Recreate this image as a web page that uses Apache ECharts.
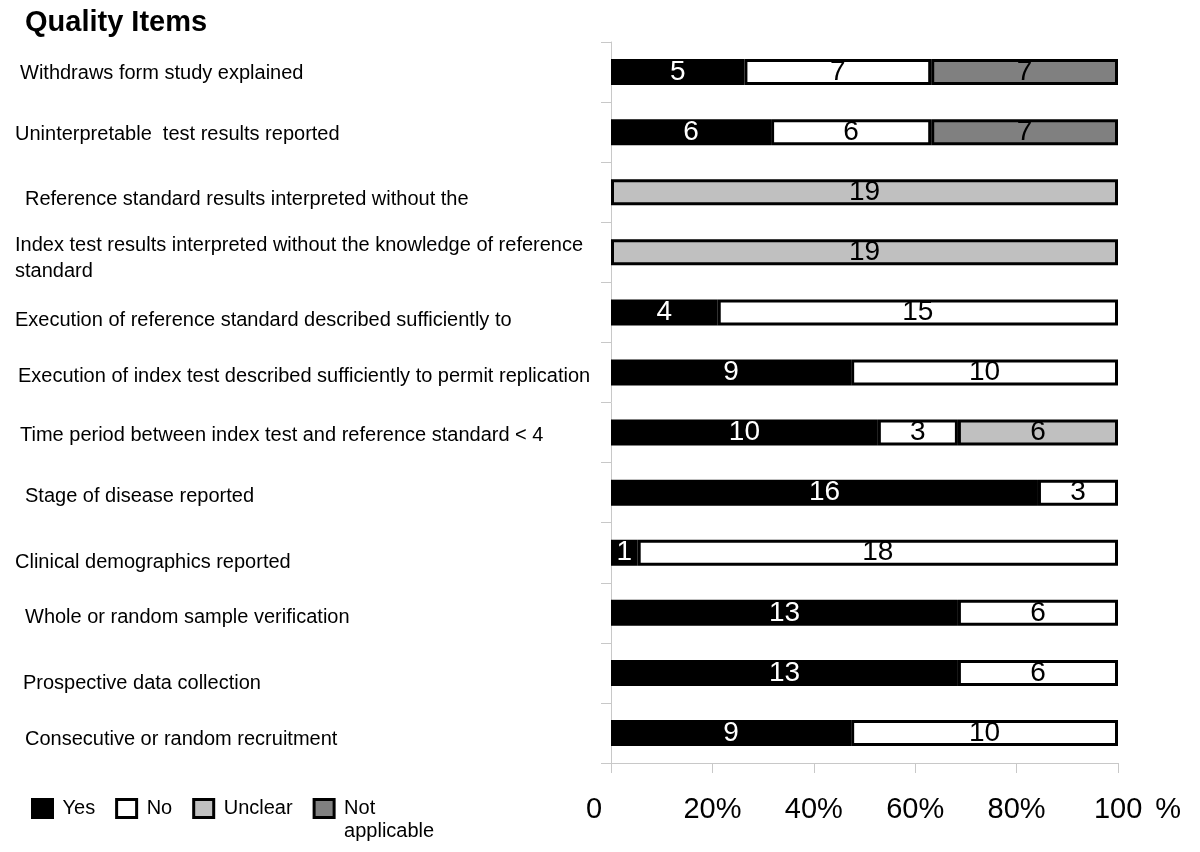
<!DOCTYPE html>
<html>
<head>
<meta charset="utf-8">
<script src="https://cdn.jsdelivr.net/npm/echarts@6/dist/echarts.min.js"></script>
<style>html,body{margin:0;padding:0;background:#fff;}#c{width:1200px;height:852px;}</style>
</head>
<body>
<div id="c"></div>
<script>
var categories = [
  'Withdraws form study explained',
  'Uninterpretable  test results reported',
  'Reference standard results interpreted without the',
  'Index test results interpreted without the knowledge of reference\nstandard',
  'Execution of reference standard described sufficiently to',
  'Execution of index test described sufficiently to permit replication',
  'Time period between index test and reference standard < 4',
  'Stage of disease reported',
  'Clinical demographics reported',
  'Whole or random sample verification',
  'Prospective data collection',
  'Consecutive or random recruitment'
];
var yesCounts     = [5, 6, 0, 0, 4, 9, 10, 16, 1, 13, 13, 9];
var noCounts      = [7, 6, 0, 0, 15, 10, 3, 3, 18, 6, 6, 10];
var unclearCounts = [0, 0, 19, 19, 0, 0, 6, 0, 0, 0, 0, 0];
var naCounts      = [7, 7, 0, 0, 0, 0, 0, 0, 0, 0, 0, 0];
var xTickLabels = ['0', '20%', '40%', '60%', '80%', '100'];
var xUnit = '%';

var FONT = 'Liberation Sans, Arial, sans-serif';
var totals = yesCounts.map(function (v, i) { return v + noCounts[i] + unclearCounts[i] + naCounts[i]; });
function pct(arr) { return arr.map(function (v, i) { return v ? v / totals[i] * 100 : '-'; }); }

// per-label indentation / vertical nudges (layout only)
var dxs = [5, 0, 10, 0, 0, 3, 5, 10, 0, 10, 8, 10];
var dys = [1, 2, 7, 0, 8, 4, 3, 4, 10, 5, 11, 7];
var LF = 20;
var rich = {};
for (var i = 0; i < categories.length; i++) {
  rich['s' + i] = { fontSize: LF, fontFamily: FONT, color: '#000', padding: [dys[i] * 2, 0, 0, dxs[i]] };
}
rich.m0 = { fontSize: LF, fontFamily: FONT, color: '#000', lineHeight: 25, padding: [12, 0, 0, 0] };
rich.m1 = { fontSize: LF, fontFamily: FONT, color: '#000', lineHeight: 25, padding: [14, 0, 0, 0] };
rich.z = { fontSize: 29, fontFamily: FONT, color: '#000', padding: [0, 34, 0, 0] };
rich.t = { fontSize: 29, fontFamily: FONT, color: '#000' };
rich.h = { fontSize: 29, fontFamily: FONT, color: '#000', padding: [0, 0, 0, 39] };
rich.pc = { fontSize: 29, fontFamily: FONT, color: '#000', padding: [0, 0, 0, 13] };

var legRich = {
  e: { fontSize: 20, fontFamily: FONT, lineHeight: 23, height: 23 },
  a: { fontSize: 20, fontFamily: FONT, color: '#000', lineHeight: 23 }
};

function mkSeries(name, counts, color, labelColor) {
  return {
    name: name,
    type: 'bar',
    stack: 'all',
    barWidth: 26,
    data: pct(counts),
    itemStyle: { color: color, borderColor: '#000', borderWidth: 3 },
    label: {
      show: true,
      position: 'inside',
      fontSize: 28,
      fontFamily: FONT,
      color: labelColor,
      formatter: function (p) { var c = counts[p.dataIndex]; return c ? String(c) : ''; }
    },
    emphasis: { disabled: true }
  };
}

var chart = echarts.init(document.getElementById('c'), null, { renderer: 'canvas' });
chart.setOption({
  animation: false,
  backgroundColor: '#fff',
  title: {
    text: 'Quality Items', left: 20, top: 3,
    textStyle: { fontSize: 29, fontWeight: 'bold', fontFamily: FONT, color: '#000' }
  },
  legend: {
    left: 31, top: 774, padding: 0,
    itemWidth: 20, itemHeight: 18, itemGap: 20,
    icon: 'rect',
    selectedMode: false,
    itemStyle: { borderWidth: 3, borderColor: '#000' },
    textStyle: { fontSize: 20, fontFamily: FONT, color: '#000', padding: [0, 0, 0, 5], rich: legRich },
    formatter: function (n) { return n === 'Not applicable' ? '{e|}\n{a|Not}\n{a|applicable}' : n; },
    data: ['Yes', 'No', 'Unclear', 'Not applicable']
  },
  grid: { left: 611, right: 82, top: 42, bottom: 89 },
  xAxis: {
    type: 'value', min: 0, max: 100, interval: 20,
    axisLine: { show: true, lineStyle: { color: '#c8c8c8', width: 1 } },
    axisTick: { show: true, length: 10, lineStyle: { color: '#c8c8c8' } },
    splitLine: { show: false },
    axisLabel: {
      margin: 32,
      formatter: function (v) {
        var idx = Math.round(v / 20);
        if (idx === 0) return '{z|' + xTickLabels[0] + '}';
        if (idx === 5) return '{h|' + xTickLabels[5] + '}{pc|' + xUnit + '}';
        return '{t|' + xTickLabels[idx] + '}';
      },
      rich: rich
    }
  },
  yAxis: {
    type: 'category', inverse: true,
    data: categories,
    axisLine: { show: true, lineStyle: { color: '#c8c8c8', width: 1 } },
    axisTick: { show: true, length: 10, lineStyle: { color: '#c8c8c8' } },
    axisLabel: {
      align: 'left', margin: 596,
      formatter: function (v, i) {
        if (v.indexOf('\n') >= 0) {
          var parts = v.split('\n');
          return '{m0|' + parts[0] + '}\n{m1|' + parts[1] + '}';
        }
        return '{s' + i + '|' + v + '}';
      },
      rich: rich
    }
  },
  series: [
    mkSeries('Yes', yesCounts, '#000000', '#ffffff'),
    mkSeries('No', noCounts, '#ffffff', '#000000'),
    mkSeries('Unclear', unclearCounts, '#c0c0c0', '#000000'),
    mkSeries('Not applicable', naCounts, '#808080', '#000000')
  ]
});
</script>
</body>
</html>
